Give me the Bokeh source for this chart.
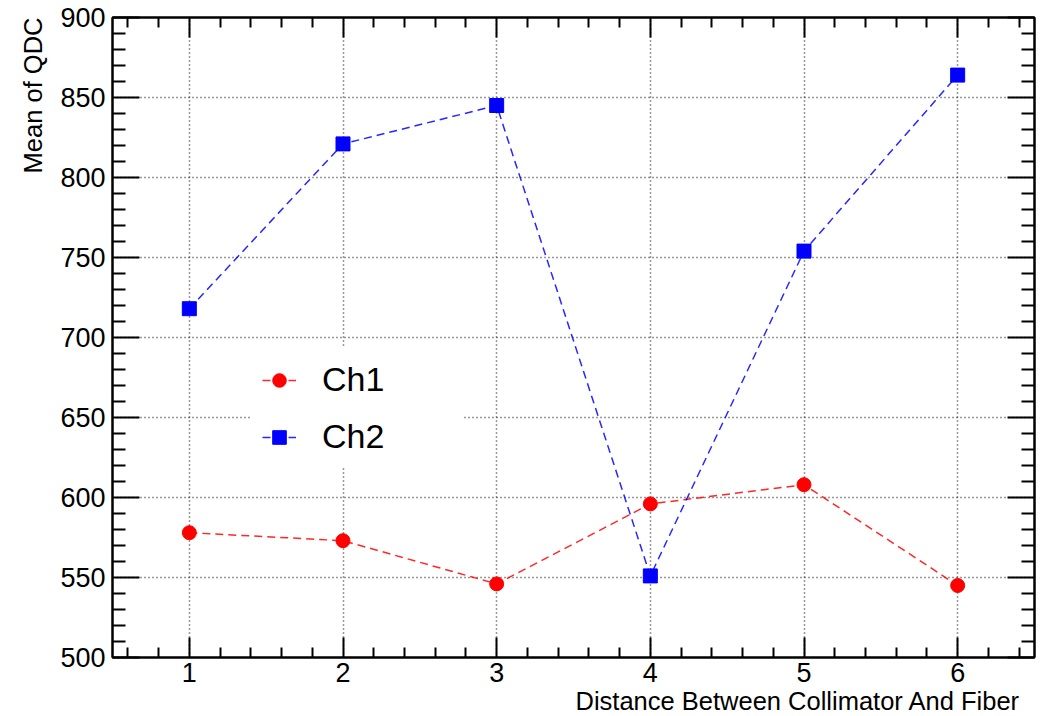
from bokeh.plotting import figure
from bokeh.models import (LinearAxis, Title, Legend, LegendItem, FixedTicker, Range1d,
                          CustomJSTickFormatter)
from bokeh.embed import file_html
from bokeh.resources import INLINE

distance = [1, 2, 3, 4, 5, 6]
ch1 = [578, 573, 546, 596, 608, 545]
ch2 = [718, 821, 845, 551, 754, 864]
y_ticks = [500, 550, 600, 650, 700, 750, 800, 850, 900]
x_ticks = [1, 2, 3, 4, 5, 6]

FONT = "Liberation Sans"

p = figure(width=1042, height=708, frame_width=922, frame_height=640,
           x_range=Range1d(0.5, 6.5), y_range=Range1d(500, 900),
           output_backend="svg", toolbar_location=None,
           min_border_left=112, min_border_right=8, min_border_top=17, min_border_bottom=51)
p.background_fill_color = "white"
p.border_fill_color = "white"
p.outline_line_color = "black"
p.outline_line_width = 2

def style_axis(ax, major_len, minor_len, labels=True):
    ax.major_tick_in = major_len
    ax.major_tick_out = 0
    ax.minor_tick_in = minor_len
    ax.minor_tick_out = 0
    ax.axis_line_color = "black"
    ax.axis_line_width = 2
    ax.major_tick_line_color = "black"
    ax.major_tick_line_width = 2
    ax.minor_tick_line_color = "black"
    ax.minor_tick_line_width = 2
    ax.major_label_text_font = FONT
    ax.major_label_text_font_size = "27px"
    ax.major_label_text_color = "black"
    if not labels:
        ax.formatter = CustomJSTickFormatter(code="return ''")
        ax.major_label_standoff = 0

x_minor = [round(0.6 + 0.2 * i, 2) for i in range(30) if round(0.6 + 0.2 * i, 2) < 6.5]
y_minor = [500 + 10 * i for i in range(41)]

def set_ticks(ax, major, minor):
    ax.ticker = FixedTicker(ticks=major, minor_ticks=[m for m in minor if m not in major])

for ax in p.xaxis:
    style_axis(ax, 20, 10)
    set_ticks(ax, x_ticks, x_minor)
    ax.major_label_standoff = 5
for ax in p.yaxis:
    style_axis(ax, 27, 13)
    set_ticks(ax, y_ticks, y_minor)
    ax.major_label_standoff = 7

top = LinearAxis()
style_axis(top, 20, 10, labels=False)
set_ticks(top, x_ticks, x_minor)
p.add_layout(top, "above")
right = LinearAxis()
style_axis(right, 27, 13, labels=False)
set_ticks(right, y_ticks, y_minor)
p.add_layout(right, "right")

p.xgrid.ticker = FixedTicker(ticks=x_ticks)
p.ygrid.ticker = FixedTicker(ticks=y_ticks)
for g in (p.xgrid[0], p.ygrid[0]):
    g.grid_line_color = "#333333"
    g.grid_line_dash = "1 3"
    g.grid_line_width = 1.5

l1 = p.line(distance, ch1, line_color="red", line_dash="8 5", line_width=1.5, line_alpha=0.85)
m1 = p.scatter(distance, ch1, marker="circle", size=14, fill_color="red", line_color="red")
l2 = p.line(distance, ch2, line_color="blue", line_dash="8 5", line_width=1.5, line_alpha=0.85)
m2 = p.scatter(distance, ch2, marker="square", size=14, fill_color="blue", line_color="blue")

legend = Legend(items=[LegendItem(label="Ch1", renderers=[l1, m1]),
                       LegendItem(label="Ch2", renderers=[l2, m2])],
                location=(138, 189), border_line_alpha=0, background_fill_color="white",
                background_fill_alpha=1, label_text_font=FONT, label_text_font_size="34px",
                label_text_color="black",
                glyph_width=34, glyph_height=34, label_standoff=26, spacing=18,
                padding=12, margin=0, label_height=34, label_width=129)
p.add_layout(legend, "center")

xt = Title(text="Distance Between Collimator And Fiber", align="right",
           text_font=FONT, text_font_size="25.5px", text_font_style="normal",
           text_color="black", standoff=0, offset=14)
p.add_layout(xt, "below")
yt = Title(text="Mean of QDC", align="right", text_font=FONT, text_font_size="25.5px",
           text_font_style="normal", text_color="black", standoff=22)
p.add_layout(yt, "left")

open("out.html", "w").write(file_html(p, INLINE))
